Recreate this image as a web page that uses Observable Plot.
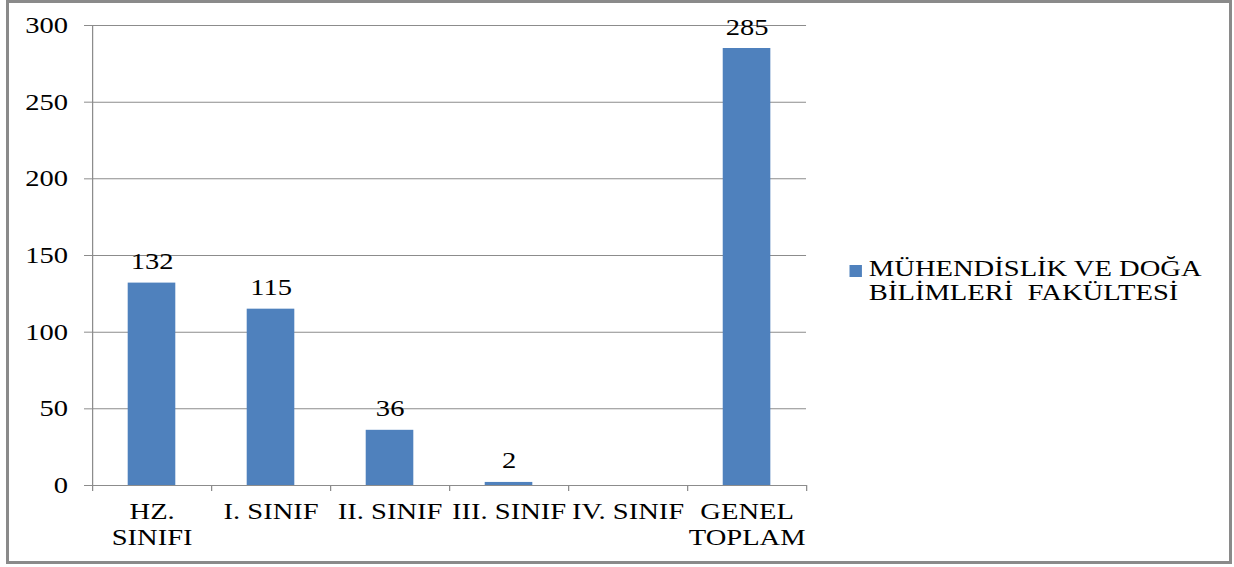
<!DOCTYPE html>
<html>
<head>
<meta charset="utf-8">
<script src="https://cdn.jsdelivr.net/npm/d3@7"></script>
<script src="https://cdn.jsdelivr.net/npm/@observablehq/plot@0.6"></script>
<style>
  html, body { margin: 0; padding: 0; background: #fff; }
  #wrap { position: relative; width: 1234px; height: 567px; overflow: hidden; }
  #stage { position: absolute; left: 0; top: 0; width: 995px; height: 567px;
           transform: scaleX(1.24196); transform-origin: 0 0; }
  #border { position: absolute; left: 6px; top: 0px; width: 1226px; height: 564px;
            border: 3px solid #8a8a8a; box-sizing: border-box; pointer-events: none; }
  #legend { position: absolute; left: 683.6px; top: 257px;
            font-family: "Liberation Serif", "Times New Roman", serif; font-size: 23px;
            line-height: 24px; color: #000; }
  #legend .sw { position: absolute; left: 0; top: 8px; width: 10.5px; height: 12px; }
  #legend .lbl { position: absolute; left: 16px; top: 0; white-space: pre; }
</style>
</head>
<body>
<div id="wrap">
  <div id="stage"></div>
  <div id="border"></div>
</div>
<script>
// ---- data ----
const categories = ["HZ.\nSINIFI", "I. SINIF", "II. SINIF", "III. SINIF", "IV. SINIF", "GENEL\nTOPLAM"];
const values = [132, 115, 36, 2, null, 285];
const seriesName = "MÜHENDİSLİK VE DOĞA\nBİLİMLERİ  FAKÜLTESİ";
const yTicks = [0, 50, 100, 150, 200, 250, 300];

const barColor = "#4F81BD";
const gridColor = "#8c8c8c";
const font = "'Liberation Serif', 'Times New Roman', serif";

const data = categories.map((c, i) => ({i, label: c, value: values[i]}));
const present = data.filter(d => d.value != null);

const chart = Plot.plot({
  width: 995,
  height: 567,
  marginLeft: 74.07,
  marginRight: 346,
  marginTop: 25,
  marginBottom: 82,
  style: {fontFamily: font, fontSize: "23px", background: "transparent", color: "#000"},
  x: {type: "linear", domain: [0, categories.length], axis: null},
  y: {domain: [0, 300], axis: null},
  marks: [
    Plot.ruleY(yTicks, {stroke: gridColor, strokeWidth: 1}),
    Plot.ruleX([0], {stroke: gridColor, strokeWidth: 1}),
    Plot.axisY({ticks: yTicks, tickSize: 6.44, tickPadding: 13.3, stroke: gridColor,
                fontSize: 23, fill: "#000", label: null}),
    Plot.axisX({ticks: d3.range(categories.length + 1), tickSize: 6, tickFormat: () => "",
                stroke: gridColor, label: null}),
    Plot.rectY(present, {x1: d => d.i + 0.3, x2: d => d.i + 0.7, y1: 0, y2: "value", fill: barColor}),
    Plot.text(present, {x: d => d.i + 0.5, y: "value", text: d => String(d.value),
                        lineAnchor: "bottom", dy: -14, fontSize: 23, fill: "#000"}),
    Plot.text(data, {x: d => d.i + 0.5, y: 0, text: "label", lineAnchor: "top", dy: 15.5,
                     lineHeight: 1.13, fontSize: 23, fill: "#000"})
  ]
});

const stage = document.getElementById("stage");
stage.appendChild(chart);

const legend = document.createElement("div");
legend.id = "legend";
const sw = document.createElement("div");
sw.className = "sw";
sw.style.background = barColor;
const lbl = document.createElement("div");
lbl.className = "lbl";
lbl.textContent = seriesName;
legend.appendChild(sw);
legend.appendChild(lbl);
stage.appendChild(legend);
</script>
</body>
</html>
